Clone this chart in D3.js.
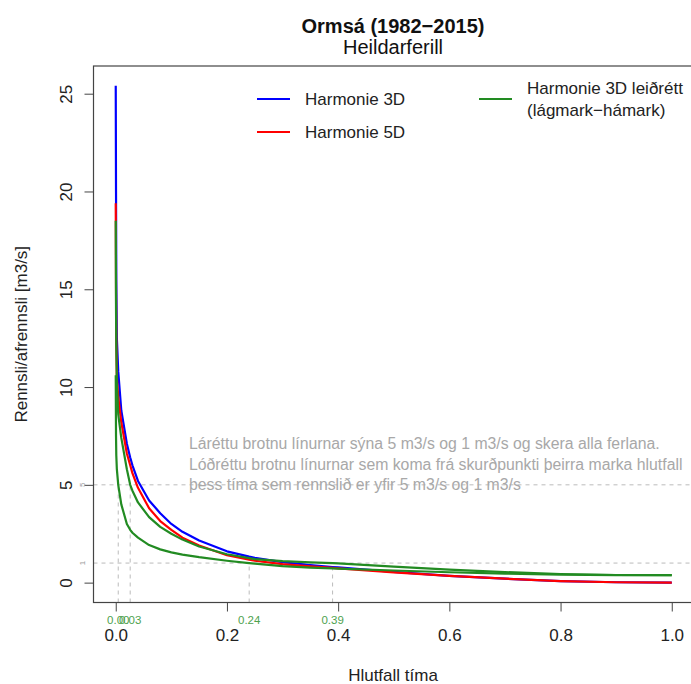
<!DOCTYPE html>
<html><head><meta charset="utf-8">
<script src="https://cdn.jsdelivr.net/npm/d3@7"></script>
<style>body{margin:0;background:#fff}svg{display:block;font-family:"Liberation Sans",Arial,sans-serif}</style>
</head><body><svg id="c" width="691" height="684"></svg>
<script>
const titleMain = "Ormsá (1982−2015)";
const titleSub = "Heildarferill";
const xLabel = "Hlutfall tíma";
const yLabel = "Rennsli/afrennsli [m3/s]";
const xTicks = [0, 0.2, 0.4, 0.6, 0.8, 1.0];
const yTicks = [0, 5, 10, 15, 20, 25];
const xs = [0, 0.0005, 0.001, 0.002, 0.0045, 0.01, 0.02, 0.026, 0.03, 0.04, 0.06, 0.08, 0.1, 0.12, 0.15, 0.2, 0.24, 0.25, 0.3, 0.35, 0.39, 0.4, 0.5, 0.6, 0.7, 0.8, 0.9, 1.0];
const harmonie3D = [25.4, 20, 15.5, 12.5, 10.8, 8.8, 7.1, 6.4, 6.0, 5.2, 4.2, 3.55, 3.0, 2.6, 2.15, 1.6, 1.33, 1.27, 1.05, 0.9, 0.8, 0.78, 0.55, 0.35, 0.2, 0.08, 0.02, 0.0];
const harmonie5D = [19.4, 15, 12.5, 10.5, 9.5, 8.2, 6.6, 6.0, 5.6, 4.85, 3.8, 3.15, 2.7, 2.3, 1.9, 1.4, 1.18, 1.12, 0.95, 0.83, 0.75, 0.73, 0.52, 0.35, 0.2, 0.08, 0.02, 0.0];
const leidrettMax = [18.5, 14, 12, 10.2, 8.6, 7.4, 5.8, 5.0, 4.7, 4.1, 3.35, 2.85, 2.5, 2.2, 1.85, 1.45, 1.25, 1.2, 1.1, 1.04, 1.0, 0.98, 0.82, 0.66, 0.54, 0.44, 0.39, 0.38];
const leidrettMin = [10.6, 7.5, 6.5, 5.8, 5.0, 4.0, 3.0, 2.7, 2.55, 2.3, 1.92, 1.7, 1.55, 1.43, 1.3, 1.12, 1.0, 0.97, 0.84, 0.77, 0.73, 0.72, 0.62, 0.53, 0.46, 0.41, 0.385, 0.38];
const seriesNames = ["Harmonie 3D", "Harmonie 5D", "Harmonie 3D leiðrétt", "(lágmark−hámark)"];
const thresholds = [5, 1];
const crossX = [0.0045, 0.026, 0.24, 0.39];
const crossY = [5, 5, 1, 1];
const crossLabels = ["0.00", "0.03", "0.24", "0.39"];
const noteLines = [
  "Láréttu brotnu línurnar sýna 5 m3/s og 1 m3/s og skera alla ferlana.",
  "Lóðréttu brotnu línurnar sem koma frá skurðpunkti þeirra marka hlutfall",
  "þess tíma sem rennslið er yfir 5 m3/s og 1 m3/s"
];

const svg = d3.select("#c");
const L = 93.5, R = 694, T = 66, B = 602.5;
const x = d3.scaleLinear().domain([-0.04, 1.04]).range([L, R]);
const yMax = 25.4;
const y = d3.scaleLinear().domain([-0.04 * yMax, yMax * 1.04]).range([B, T]);
const dark = "#222";

// titles
svg.append("text").attr("x", 393).attr("y", 33).attr("text-anchor", "middle")
  .attr("font-size", 20).attr("font-weight", "bold").attr("fill", "#111").text(titleMain);
svg.append("text").attr("x", 393).attr("y", 54).attr("text-anchor", "middle")
  .attr("font-size", 20).attr("fill", "#111").text(titleSub);

// threshold dashed lines
const g = svg.append("g");
g.selectAll("line.h").data(thresholds).join("line")
  .attr("x1", L).attr("x2", R).attr("y1", d => y(d)).attr("y2", d => y(d))
  .attr("stroke", "#bbb").attr("stroke-dasharray", "4,4").attr("stroke-width", 1);
g.selectAll("line.v").data(crossX).join("line")
  .attr("x1", d => x(d)).attr("x2", d => x(d)).attr("y1", B).attr("y2", (d, i) => y(crossY[i]))
  .attr("stroke", "#bbb").attr("stroke-dasharray", "4,4").attr("stroke-width", 1);

// note text
svg.append("g").selectAll("text").data(noteLines).join("text")
  .attr("x", 189).attr("y", (d, i) => 449 + i * 20.5)
  .attr("font-size", 15.8).attr("fill", "#a8a8a8").text(d => d);

// curves
const line = d3.line().x((d, i) => x(xs[i])).y(d => y(d));
const curves = [[harmonie3D, "#0000ff"], [harmonie5D, "#ff0000"], [leidrettMax, "#228b22"], [leidrettMin, "#228b22"]];
svg.append("g").selectAll("path").data(curves).join("path")
  .attr("d", d => line(d[0])).attr("fill", "none").attr("stroke", d => d[1])
  .attr("stroke-width", 2.2).attr("stroke-linejoin", "round");

// box
svg.append("rect").attr("x", L).attr("y", T).attr("width", R - L).attr("height", B - T)
  .attr("fill", "none").attr("stroke", "#444").attr("stroke-width", 1.2);

// x axis
const xa = svg.append("g").attr("transform", `translate(0,${B})`)
  .call(d3.axisBottom(x).tickValues(xTicks).tickFormat(d3.format(".1f")).tickSize(9).tickPadding(17));
xa.select(".domain").remove();
xa.selectAll("line").attr("stroke", "#444");
xa.selectAll("text").attr("font-size", 17).attr("fill", dark).attr("font-family", "Liberation Sans, Arial, sans-serif");

// y axis
const ya = svg.append("g").attr("transform", `translate(${L},0)`)
  .call(d3.axisLeft(y).tickValues(yTicks).tickSize(9).tickFormat(d3.format("d")));
ya.select(".domain").remove();
ya.selectAll("line").attr("stroke", "#444");
ya.selectAll("text").attr("font-size", 17).attr("fill", dark).attr("font-family", "Liberation Sans, Arial, sans-serif")
  .attr("text-anchor", "middle").attr("x", 0).attr("dy", 0)
  .attr("transform", "translate(-22,0) rotate(-90)");

// small grey threshold labels
svg.append("g").selectAll("text").data(thresholds).join("text")
  .attr("transform", d => `translate(85,${y(d)}) rotate(-90)`)
  .attr("text-anchor", "middle").attr("font-size", 8).attr("fill", "#999").text(d => d);

// crossing labels
svg.append("g").selectAll("text").data(crossX).join("text")
  .attr("x", d => x(d)).attr("y", 624).attr("text-anchor", "middle")
  .attr("font-size", 11.5).attr("fill", "#4ea24e").text((d, i) => crossLabels[i]);

// axis labels
svg.append("text").attr("x", 393).attr("y", 681).attr("text-anchor", "middle")
  .attr("font-size", 17).attr("fill", dark).text(xLabel);
svg.append("text").attr("transform", `translate(27,${(T + B) / 2}) rotate(-90)`).attr("text-anchor", "middle")
  .attr("font-size", 17).attr("fill", dark).text(yLabel);

// legend
const leg = svg.append("g");
const legItems = [
  {name: seriesNames[0], color: "#0000ff", lx: 257, ly: 99, lines: [seriesNames[0]]},
  {name: seriesNames[1], color: "#ff0000", lx: 257, ly: 132, lines: [seriesNames[1]]},
  {name: seriesNames[2], color: "#228b22", lx: 479, ly: 99, lines: [seriesNames[2], seriesNames[3]]}
];
legItems.forEach(it => {
  leg.append("line").attr("x1", it.lx).attr("x2", it.lx + 33).attr("y1", it.ly).attr("y2", it.ly)
    .attr("stroke", it.color).attr("stroke-width", 2.2);
  const n = it.lines.length;
  it.lines.forEach((t, i) => {
    leg.append("text").attr("x", it.lx + 48).attr("y", it.ly + 6 + (i - (n - 1) / 2) * 22)
      .attr("font-size", 17).attr("fill", dark).text(t);
  });
});
</script></body></html>
